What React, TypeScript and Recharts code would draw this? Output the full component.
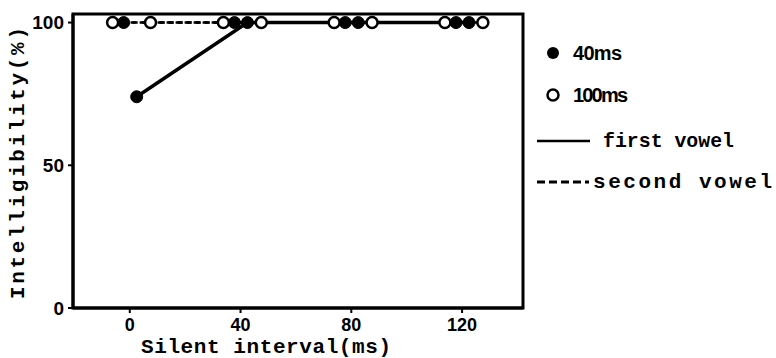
import { LineChart, Line, XAxis, YAxis, ReferenceArea } from "recharts";

// silent interval conditions (ms) and the plotted intelligibility (%)
const silentIntervals = [0, 40, 80, 120];
const first40 = [74, 100, 100, 100];
const second40 = [100, 100, 100, 100];
const first100 = [100, 100, 100, 100];
const second100 = [100, 100, 100, 100];

const xTicks = [0, 40, 80, 120];
const yTicks = [0, 50, 100];

// horizontal dodge of each series around its interval (ms)
const DODGE = { first40: 2.5, second40: -2.2, first100: 7.5, second100: -6.2 };

const toPoints = (vals: number[], dodge: number) =>
  silentIntervals.map((x, i) => ({ x: x + dodge, y: vals[i] }));

const W = 776;
const H = 358;
const mono = "'Liberation Mono', 'DejaVu Sans Mono', monospace";
const sans = "'Liberation Sans', Arial, sans-serif";
const narrow = "'Liberation Sans Narrow', 'Liberation Sans', sans-serif";

const filledDot = { r: 6, fill: "#000", stroke: "#000", strokeWidth: 1, strokeDasharray: "0" };
const openDot = { r: 5.5, fill: "#fff", stroke: "#000", strokeWidth: 2.5, strokeDasharray: "0" };

const XLabel = (props: any) => {
  const { viewBox } = props;
  const cx = viewBox.x + viewBox.width / 2 - 32;
  return (
    <text
      x={cx}
      y={viewBox.y + 45}
      textAnchor="middle"
      textLength={250}
      lengthAdjust="spacing"
      fontFamily={mono}
      fontWeight="bold"
      fontSize={21}
      fill="#000"
    >
      Silent interval(ms)
    </text>
  );
};

const YLabel = (props: any) => {
  const { viewBox } = props;
  const cy = viewBox.y + viewBox.height / 2 + 2;
  return (
    <text
      x={18}
      y={cy}
      transform={`rotate(-90 18 ${cy})`}
      textAnchor="middle"
      dominantBaseline="central"
      textLength={272}
      lengthAdjust="spacing"
      fontFamily={mono}
      fontWeight="bold"
      fontSize={21}
      fill="#000"
    >
      Intelligibility(%)
    </text>
  );
};

const LegendBox = () => (
  <svg
    width={W}
    height={H}
    style={{ position: "absolute", left: 0, top: 0, pointerEvents: "none" }}
  >
    <circle cx={553} cy={53} r={6} fill="#000" />
    <text x={573} y={53} dominantBaseline="central" textLength={49} lengthAdjust="spacing"
      fontFamily={narrow} fontWeight="bold" fontSize={20} fill="#000">
      40ms
    </text>
    <circle cx={553} cy={95} r={5.5} fill="#fff" stroke="#000" strokeWidth={2.5} />
    <text x={573} y={95} dominantBaseline="central" textLength={55} lengthAdjust="spacing"
      fontFamily={narrow} fontWeight="bold" fontSize={20} fill="#000">
      100ms
    </text>
    <line x1={537} x2={590} y1={141} y2={141} stroke="#000" strokeWidth={2.5} />
    <text x={603} y={141} dominantBaseline="central" textLength={131} lengthAdjust="spacingAndGlyphs"
      fontFamily={mono} fontWeight="bold" fontSize={21} fill="#000">
      first vowel
    </text>
    <line x1={537} x2={589} y1={182} y2={182} stroke="#000" strokeWidth={3} strokeDasharray="8 4" />
    <text x={593} y={182} dominantBaseline="central" textLength={179} lengthAdjust="spacing"
      fontFamily={mono} fontWeight="bold" fontSize={21} fill="#000">
      second vowel
    </text>
  </svg>
);

const App = () => {
  return (
    <div style={{ position: "absolute", left: 0, top: 0, width: W, height: H, background: "#fff" }}>
      <LineChart
        width={W}
        height={H}
        margin={{ top: 14, right: 253, left: 0, bottom: 0 }}
      >
        <XAxis
          type="number"
          dataKey="x"
          domain={[-20.5, 142]}
          allowDataOverflow
          ticks={xTicks}
          height={50}
          tickSize={5}
          tickMargin={5}
          axisLine={{ stroke: "#000", strokeWidth: 3 }}
          tickLine={{ stroke: "#000", strokeWidth: 2 }}
          tick={{ fill: "#000", fontSize: 18, fontFamily: sans, fontWeight: "bold" }}
          label={<XLabel />}
        />
        <YAxis
          type="number"
          dataKey="y"
          domain={[0, 103]}
          allowDataOverflow
          ticks={yTicks}
          width={73}
          tickSize={5}
          tickMargin={4}
          axisLine={{ stroke: "#000", strokeWidth: 3 }}
          tickLine={{ stroke: "#000", strokeWidth: 2 }}
          tick={{ fill: "#000", fontSize: 19, fontFamily: sans, fontWeight: "bold" }}
          label={<YLabel />}
        />
        <ReferenceArea
          x1={-20.5}
          x2={142}
          y1={0}
          y2={103}
          fill="none"
          stroke="#000"
          strokeWidth={3}
          fillOpacity={0}
          strokeOpacity={1}
          ifOverflow="visible"
        />
        <Line
          data={toPoints(second100, DODGE.second100)}
          dataKey="y"
          type="linear"
          stroke="#000"
          strokeWidth={2.5}
          strokeDasharray="5 4"
          dot={openDot}
          isAnimationActive={false}
        />
        <Line
          data={toPoints(second40, DODGE.second40)}
          dataKey="y"
          type="linear"
          stroke="#000"
          strokeWidth={2.5}
          strokeDasharray="5 4"
          dot={filledDot}
          isAnimationActive={false}
        />
        <Line
          data={toPoints(first100, DODGE.first100)}
          dataKey="y"
          type="linear"
          stroke="#000"
          strokeWidth={2.5}
          strokeDasharray="5 4"
          dot={openDot}
          isAnimationActive={false}
        />
        <Line
          data={toPoints(first40, DODGE.first40)}
          dataKey="y"
          type="linear"
          stroke="#000"
          strokeWidth={3.5}
          dot={filledDot}
          isAnimationActive={false}
        />
      </LineChart>
      <LegendBox />
    </div>
  );
};

export default App;
